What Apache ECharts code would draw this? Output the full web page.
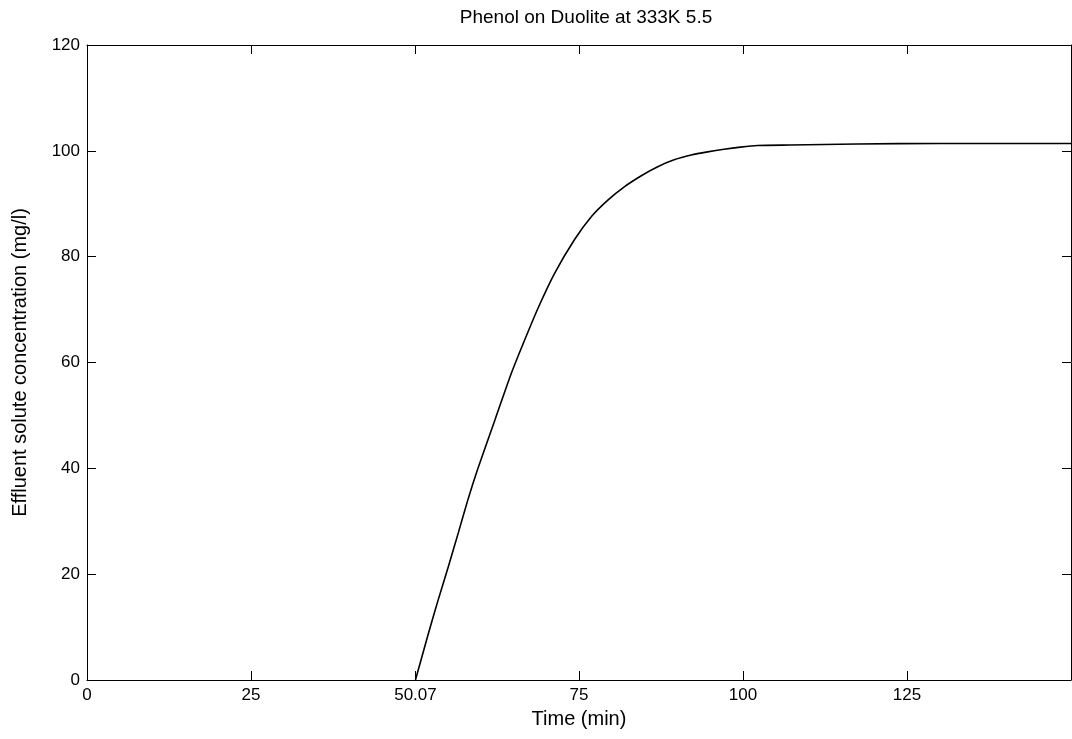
<!DOCTYPE html>
<html>
<head>
<meta charset="utf-8">
<script src="https://cdn.jsdelivr.net/npm/echarts@6/dist/echarts.min.js"></script>
<style>
html,body{margin:0;padding:0;background:#fff;}
#chart{width:1072px;height:739px;}
</style>
</head>
<body>
<div id="chart"></div>
<script>
// Data
const titleText = 'Phenol on Duolite at 333K 5.5';
const xName = 'Time (min)';
const yName = 'Effluent solute concentration (mg/l)';
const xTicks = [0, 25, 50.07, 75, 100, 125];
const yTicks = [0, 20, 40, 60, 80, 100, 120];
const time = [50.07, 52.0, 53.5, 55.1, 56.6, 58.0, 59.6, 62.2, 64.7, 66.7, 68.8, 71.3, 74.3, 76.9, 79.4, 81.9, 84.5, 87.0, 89.5, 92.1, 94.6, 97.1, 99.6, 102.2, 107.2, 117.4, 130, 150];
const conc = [0, 8.6, 15.0, 21.5, 27.8, 33.8, 40.0, 49.2, 58.0, 64.2, 70.4, 76.9, 83.2, 87.6, 90.7, 93.2, 95.3, 97.0, 98.3, 99.2, 99.8, 100.3, 100.7, 101.0, 101.1, 101.3, 101.4, 101.4];

const pts = time.map((t, i) => [t, conc[i]]);
const font = 'Liberation Sans, Arial, sans-serif';

const chart = echarts.init(document.getElementById('chart'), null, {renderer: 'canvas'});
chart.setOption({
  animation: false,
  backgroundColor: '#ffffff',
  title: {
    text: titleText,
    left: 581, top: 3, textAlign: 'center',
    textStyle: {fontFamily: font, fontSize: 19, fontWeight: 'normal', color: '#000'}
  },
  grid: {left: 87, right: 1, top: 45, bottom: 59, containLabel: false},
  xAxis: [{
    type: 'value', min: 0, max: 150,
    name: xName, nameLocation: 'middle', nameGap: 29,
    nameTextStyle: {fontFamily: font, fontSize: 20, color: '#000'},
    axisLine: {show: true, onZero: false, lineStyle: {color: '#000', width: 1}},
    axisTick: {show: true, inside: true, length: 9, customValues: xTicks, lineStyle: {color: '#000'}},
    axisLabel: {customValues: xTicks, fontFamily: font, fontSize: 17, color: '#000', margin: 7,
      formatter: v => (Math.abs(v - 50.07) < 1e-6 ? '50.07' : String(v))},
    splitLine: {show: false}
  }, {
    type: 'value', min: 0, max: 150, position: 'top',
    axisLine: {show: true, onZero: false, lineStyle: {color: '#000', width: 1}},
    axisTick: {show: true, inside: true, length: 9, customValues: xTicks, lineStyle: {color: '#000'}},
    axisLabel: {show: false},
    splitLine: {show: false}
  }],
  yAxis: [{
    type: 'value', min: 0, max: 120, interval: 20,
    name: yName, nameLocation: 'middle', nameGap: 57, nameRotate: 90,
    nameTextStyle: {fontFamily: font, fontSize: 20, color: '#000'},
    axisLine: {show: true, onZero: false, lineStyle: {color: '#000', width: 1}},
    axisTick: {show: true, inside: true, length: 9, lineStyle: {color: '#000'}},
    axisLabel: {fontFamily: font, fontSize: 17, color: '#000', margin: 7},
    splitLine: {show: false}
  }, {
    type: 'value', min: 0, max: 120, interval: 20, position: 'right',
    axisLine: {show: true, onZero: false, lineStyle: {color: '#000', width: 1}},
    axisTick: {show: true, inside: true, length: 9, lineStyle: {color: '#000'}},
    axisLabel: {show: false},
    splitLine: {show: false}
  }],
  series: [{
    type: 'line',
    data: pts,
    xAxisIndex: 0, yAxisIndex: 0,
    showSymbol: false,
    smooth: 0.2,
    lineStyle: {color: '#000', width: 1.6}
  }]
});
</script>
</body>
</html>
